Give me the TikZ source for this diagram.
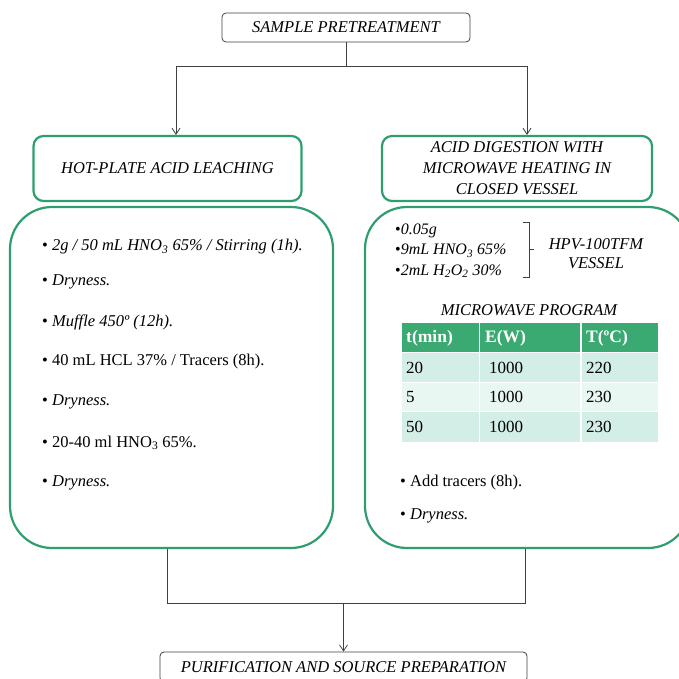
\documentclass[tikz,border=0pt]{standalone}
\usepackage{fontspec}
\setmainfont{Liberation Serif}
\usetikzlibrary{arrows.meta}
\definecolor{grn}{HTML}{2E9E6E}
\definecolor{thead}{HTML}{3AAA72}
\definecolor{rowa}{HTML}{D3EEE6}
\definecolor{rowb}{HTML}{E9F7F3}
\begin{document}
\begin{tikzpicture}[x=1pt,y=-1pt,
  greybox/.style={draw=black!75,line width=0.8pt,rounded corners=4pt},
  greenbox/.style={draw=grn,line width=2.2pt,rounded corners=10pt},
  bigbox/.style={draw=grn,line width=2.2pt,rounded corners=42pt},
  conn/.style={draw=black!75,line width=0.8pt},
  arr/.style={conn,-{Straight Barb[length=6pt,width=8pt]}},
  lbl/.style={font=\fontsize{16.5}{18}\selectfont\itshape,align=center},
  item/.style={anchor=west,font=\fontsize{16.5}{18}\selectfont,inner sep=0pt},
  small/.style={anchor=west,font=\fontsize{16}{18}\selectfont,inner sep=0pt},
  cell/.style={anchor=west,font=\fontsize{17}{18}\selectfont,inner sep=0pt},
  hcell/.style={cell,text=white,font=\fontsize{17.5}{18}\selectfont\bfseries}]
\useasboundingbox (0,0) rectangle (679,679);
% top box
\node[greybox,lbl,minimum width=248pt,minimum height=29pt] (top) at (346,27.5) {SAMPLE PRETREATMENT};
% headers
\node[greenbox,lbl,minimum width=268pt,minimum height=65pt] (hl) at (167.5,168.5) {HOT-PLATE ACID LEACHING};
\node[greenbox,lbl,minimum width=270pt,minimum height=65pt,font=\fontsize{16.5}{21}\selectfont\itshape] (hr) at (517,168.5) {ACID DIGESTION WITH\\MICROWAVE HEATING IN\\CLOSED VESSEL};
% big boxes
\node[bigbox,minimum width=323pt,minimum height=341pt] (bl) at (171.5,377.5) {};
\node[bigbox,minimum width=325pt,minimum height=341pt] (br) at (527.5,377.5) {};
% bottom box
\node[greybox,lbl,minimum width=367pt,minimum height=30pt] (bot) at (343.5,667) {PURIFICATION AND SOURCE PREPARATION};
% connectors top
\coordinate (s1) at (346,66);
\coordinate (sl) at (176,66);
\coordinate (sr) at (527,66);
\draw[conn] (top.south) -- (s1);
\draw[conn] (sl) -- (sr);
\draw[arr] (sl) -- (sl |- hl.north);
\draw[arr] (sr) -- (sr |- hr.north);
% connectors bottom
\coordinate (bl1) at (167,603);
\coordinate (br1) at (525,603);
\coordinate (bm) at (343.5,603);
\draw[conn] (bl1 |- bl.south) -- (bl1) -- (br1) -- (br1 |- br.south);
\draw[arr] (bm) -- (bot.north);
% left list
\node[item] (l1) at (42,247) {• \textit{2g / 50 mL HNO\textsubscript{3} 65\% / Stirring (1h).}};
\node[item] (l2) at (42,282) {• \textit{Dryness.}};
\node[item] (l3) at (42,322) {• \textit{Muffle 450º (12h).}};
\node[item] (l4) at (42,362) {• 40 mL HCL 37\% / Tracers (8h).};
\node[item] (l5) at (42,402) {• \textit{Dryness.}};
\node[item] (l6) at (42,443) {• 20-40 ml HNO\textsubscript{3} 65\%.};
\node[item] (l7) at (42,483) {• \textit{Dryness.}};
% right list
\node[small] (r1) at (395,231) {•\textit{0.05g}};
\node[small] (r2) at (395,251) {•\textit{9mL HNO\textsubscript{3} 65\%}};
\node[small] (r3) at (395,271) {•\textit{2mL H\textsubscript{2}O\textsubscript{2} 30\%}};
\coordinate (b1) at (523,222);
\coordinate (b2) at (529,222);
\coordinate (b3) at (529,277);
\coordinate (b4) at (523,277);
\coordinate (b5) at (529,249);
\coordinate (b6) at (534,249);
\draw[conn] (b1) -- (b2) -- (b3) -- (b4);
\draw[conn] (b5) -- (b6);
\node[lbl,font=\fontsize{16.5}{19}\selectfont\itshape] (hpv) at (596,254) {HPV-100TFM\\VESSEL};
\node[lbl] (mp) at (529,310) {MICROWAVE PROGRAM};
% table
\fill[thead] (402,323) rectangle (658,352);
\fill[rowa] (402,353) rectangle (658,382);
\fill[rowb] (402,383) rectangle (658,411);
\fill[rowa] (402,412) rectangle (658,442);
\draw[white,line width=1.2pt] (479.5,323) -- (479.5,442) (581,323) -- (581,442);
\node[hcell] (h1) at (406,338) {t(min)};
\node[hcell] (h2) at (485,338) {E(W)};
\node[hcell] (h3) at (586,338) {T(ºC)};
\node[cell] (c11) at (406,368) {20};
\node[cell] (c12) at (489,368) {1000};
\node[cell] (c13) at (586,368) {220};
\node[cell] (c21) at (406,397) {5};
\node[cell] (c22) at (489,397) {1000};
\node[cell] (c23) at (586,397) {230};
\node[cell] (c31) at (406,427) {50};
\node[cell] (c32) at (489,427) {1000};
\node[cell] (c33) at (586,427) {230};
\node[item] (r4) at (400,483) {• Add tracers (8h).};
\node[item] (r5) at (400,516) {• \textit{Dryness.}};
\end{tikzpicture}
\end{document}
